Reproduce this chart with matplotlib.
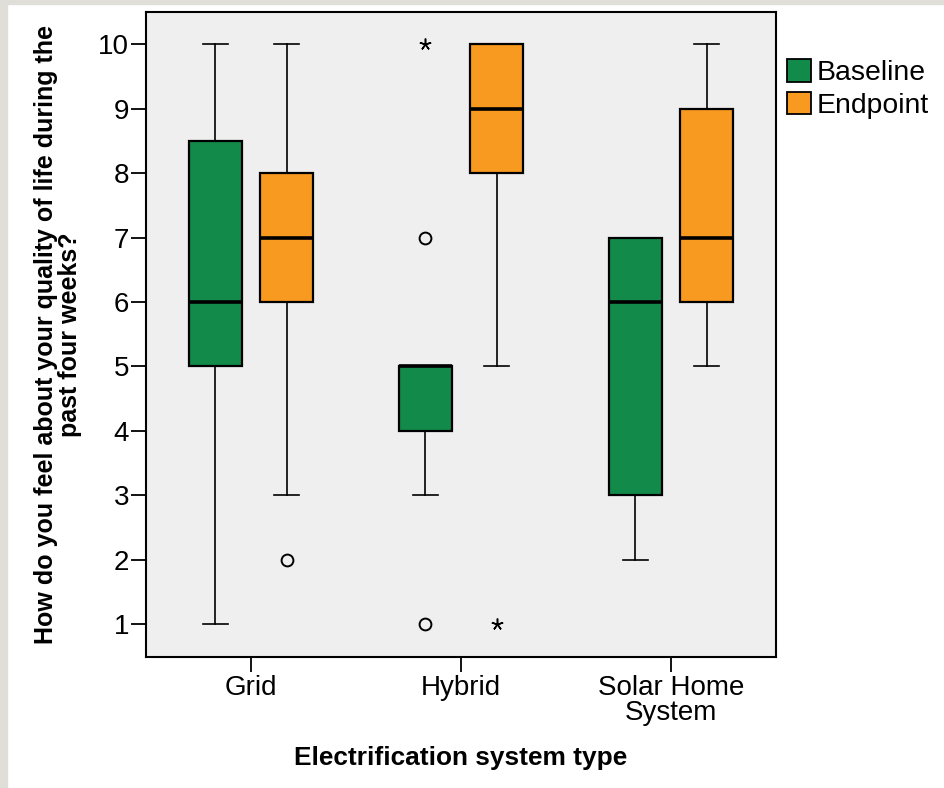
import matplotlib
matplotlib.use('Agg')
import matplotlib.pyplot as plt
import matplotlib.patches as mpatches

plt.rcParams['font.family'] = ['Liberation Sans', 'DejaVu Sans']

# ─── Dados ────────────────────────────────────────────────────────────────────
categories = ['Grid', 'Hybrid', 'Solar Home\nSystem']
groups = ['Baseline', 'Endpoint']

base_whislo = [1, 3, 2]
base_q1 = [5, 4, 3]
base_med = [6, 5, 6]
base_q3 = [8.5, 5, 7]
base_whishi = [10, 5, 7]
base_outliers = [[], [7, 1], []]
base_extremes = [[], [10], []]

end_whislo = [3, 5, 5]
end_q1 = [6, 8, 6]
end_med = [7, 9, 7]
end_q3 = [8, 10, 9]
end_whishi = [10, 10, 10]
end_outliers = [[2], [], []]
end_extremes = [[], [1], []]

GREEN = '#128B4A'
ORANGE = '#F89920'
BG = '#EFEFEF'

fig = plt.figure(figsize=(9.44, 7.88), dpi=100)
fig.patch.set_facecolor('white')
# borda cinza da captura de tela
fig.patches.append(mpatches.Rectangle((0, 0), 7 / 944, 1, transform=fig.transFigure,
                                      color='#E0DED8', zorder=0))
fig.patches.append(mpatches.Rectangle((0, 1 - 4 / 788), 1, 4 / 788, transform=fig.transFigure,
                                      color='#E0DED8', zorder=0))

ax = fig.add_axes([146 / 944, 1 - 657 / 788, 630 / 944, 645 / 788])
ax.set_facecolor(BG)

offset = 0.17
box_w = 0.25
cap_w = 0.12


def make_stats(whislo, q1, med, q3, whishi, fliers):
    return [dict(whislo=a, q1=b, med=c, q3=d, whishi=e, fliers=f)
            for a, b, c, d, e, f in zip(whislo, q1, med, q3, whishi, fliers)]


series = [
    (make_stats(base_whislo, base_q1, base_med, base_q3, base_whishi, base_outliers), -offset, GREEN, base_extremes),
    (make_stats(end_whislo, end_q1, end_med, end_q3, end_whishi, end_outliers), offset, ORANGE, end_extremes),
]

for stats, off, color, extremes in series:
    pos = [i + off for i in range(len(categories))]
    ax.bxp(stats, positions=pos, widths=box_w, capwidths=cap_w, patch_artist=True,
           showfliers=True,
           boxprops=dict(facecolor=color, edgecolor='black', linewidth=1.6),
           medianprops=dict(color='black', linewidth=2.6),
           whiskerprops=dict(color='black', linewidth=1.2),
           capprops=dict(color='black', linewidth=1.2),
           flierprops=dict(marker='o', markerfacecolor='none', markeredgecolor='black',
                           markersize=8.5, markeredgewidth=1.4))
    for p, ext in zip(pos, extremes):
        if ext:
            ax.plot([p] * len(ext), ext, linestyle='none', marker=(5, 2, 0),
                    color='black', markersize=8.5, markeredgewidth=1.1)

ax.set_xlim(-0.5, 2.5)
ax.set_ylim(0.49, 10.5)
ax.set_yticks(range(1, 11))
ax.set_xticks(range(len(categories)))
ax.set_xticklabels(categories, fontsize=20, linespacing=0.95)
ax.tick_params(axis='y', labelsize=20, length=11, width=1.3, pad=1)
ax.tick_params(axis='x', length=11, width=1.3, pad=2)
for s in ax.spines.values():
    s.set_linewidth(1.5)
    s.set_color('black')

ax.set_xlabel('Electrification system type', fontsize=18.9, fontweight='bold', labelpad=14)
ax.set_ylabel('How do you feel about your quality of life during the\npast four weeks?',
              fontsize=18, fontweight='bold', linespacing=1.0, labelpad=12)

handles = [mpatches.Patch(facecolor=GREEN, edgecolor='black', linewidth=1.3, label=groups[0]),
           mpatches.Patch(facecolor=ORANGE, edgecolor='black', linewidth=1.3, label=groups[1])]
ax.legend(handles=handles, loc='upper left', bbox_to_anchor=(1.017, 0.927), frameon=False,
          fontsize=20.4, handlelength=0.85, handleheight=0.85, handletextpad=0.2,
          borderpad=0, borderaxespad=0, labelspacing=0.2)

plt.savefig('out.png', dpi=100)
plt.close()
